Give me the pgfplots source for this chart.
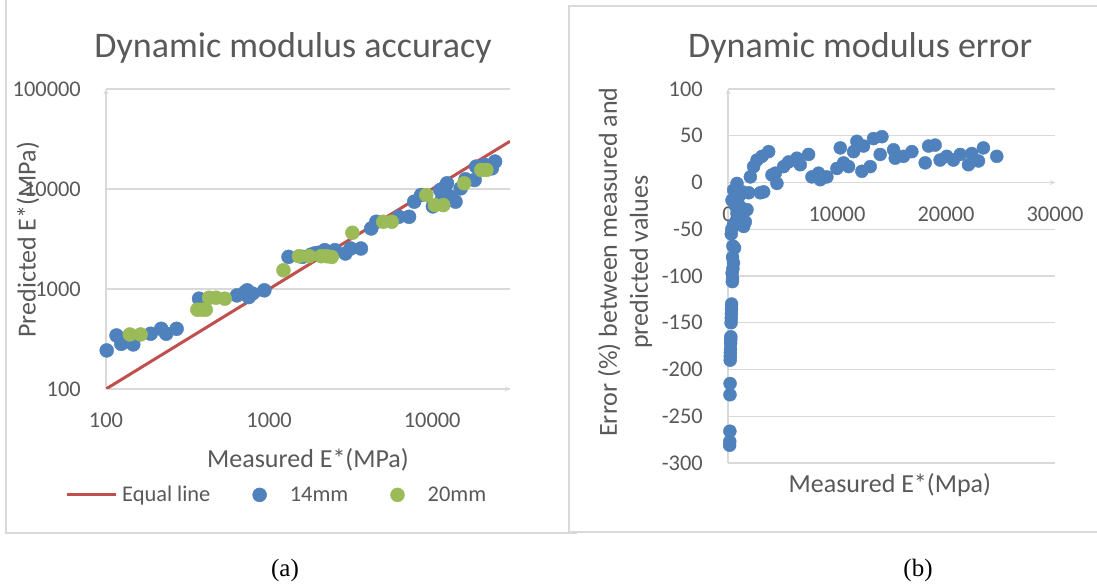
\documentclass[border=0pt]{standalone}
\usepackage{fontspec}
\setmainfont{Carlito}
\newfontfamily\timesfont{Liberation Serif}
\usepackage{pgfplots}
\pgfplotsset{compat=1.18}
\definecolor{txt}{HTML}{595959}
\definecolor{gridc}{HTML}{D9D9D9}
\definecolor{blu}{HTML}{4F81BD}
\definecolor{grn}{HTML}{9BBB59}
\definecolor{redl}{HTML}{C0504D}
\newcommand{\tickfont}{\fontsize{22.4bp}{26bp}\selectfont}
\newcommand{\labfont}{\fontsize{26bp}{31bp}\selectfont}
\newcommand{\titfont}{\fontsize{36bp}{42bp}\selectfont}
\pgfplotsset{
  excel/.style={
    scale only axis,
    major tick length=0pt, minor tick length=0pt,
    axis line style={-, draw=gridc, line width=1.3bp},
    every inner x axis line/.append style={-},
    every inner y axis line/.append style={-},
    every outer x axis line/.append style={-},
    every outer y axis line/.append style={-},
    ymajorgrids,
    major grid style={draw=gridc, line width=1.3bp},
    tick label style={font=\tickfont, text=txt},
    xticklabel style={inner sep=0pt, yshift=-24bp},
    yticklabel style={inner sep=0pt, xshift=-25bp},
    scaled ticks=false,
  },
  dotleg/.style={legend image code/.code={\draw[##1] plot coordinates {(0bp,0bp)}; \path (-7bp,0bp) (25bp,0bp);}},
  lineleg/.style={legend image code/.code={\draw[##1] (0bp,0bp) -- (49bp,0bp);}},
}
\begin{document}
\begin{tikzpicture}
\useasboundingbox (0,0) rectangle (1097bp,584bp);
\fill[white] (0,0) rectangle (1097bp,584bp);
\draw[gridc, line width=1.5bp] (6bp,584bp) -- (6bp,51bp) -- (577bp,51bp);
\draw[gridc, line width=1.5bp] (569bp,51bp) -- (569bp,578bp) -- (1097bp,578bp);
\draw[gridc, line width=1.5bp] (569bp,52bp) -- (1097bp,52bp);

% ---------- (a) accuracy ----------
\begin{axis}[excel,
  at={(106bp,195bp)}, anchor=south west,
  width=404bp, height=300bp,
  xmode=log, ymode=log,
  xmin=100, xmax=30000, ymin=100, ymax=100000,
  xtick={100,1000,10000}, xticklabels={100,1000,10000},
  ytick={100,1000,10000,100000}, yticklabels={100,1000,10000,100000},
  minor xtick={}, minor ytick={},
  axis lines=left,
  title={Dynamic modulus accuracy},
  every axis title/.style={at={(axis description cs:0.463,1.137)}, anchor=center, font=\titfont, text=txt},
  xlabel={Measured E*(MPa)},
  every axis x label/.style={at={(axis description cs:0.5,-0.237)}, anchor=center, font=\labfont, text=txt},
  ylabel={Predicted E*(MPa)},
  every axis y label/.style={at={(axis description cs:-0.193,0.497)}, anchor=center, rotate=90, font=\labfont, text=txt},
  legend columns=3,
  legend style={at={(axis description cs:0.42,-0.353)}, anchor=center, draw=none, fill=none,
    font=\tickfont, text=txt, nodes={inner sep=0pt},
    /tikz/every even column/.append style={column sep=42bp},
    /tikz/every odd column/.append style={column sep=5bp}},
]
\addplot[redl, line width=3bp, lineleg]
  coordinates {(100,100) (30000,30000)};
\addlegendentry{Equal line}
\addplot[only marks, mark=*, mark size=7bp, mark options={draw=blu, fill=blu}, dotleg]
  coordinates {
(101,243) (116,343) (124,283) (147,279) (137,330) (188,357) (218,400) (234,357) (271,400)
(372,800) (635,863) (713,933) (734,970) (790,900) (750,830) (935,970)
(1315,2094) (1600,2094) (1800,2200) (1897,2265) (2000,2300) (2193,2444) (2300,2350) (2535,2444) (2937,2265)
(3160,2540) (3656,2540) (4228,4027) (4540,4700) (6237,5272) (7214,5272) (7756,7470) (8550,8710)
(10100,6700) (11190,9770) (11500,8000) (12000,10500) (12330,11400) (12950,8360) (13900,7470) (14950,10150)
(16000,12500) (18200,12300) (18600,16750) (21000,17400) (23200,16100) (24300,18800)
  };
\addlegendentry{14mm}
\addplot[only marks, mark=*, mark size=7bp, mark options={draw=grn, fill=grn}, dotleg]
  coordinates {
(140,351) (163,351) (363,621) (390,621) (409,621) (429,818) (473,818) (535,800)
(1225,1538) (1525,2128) (1760,2128) (2085,2128) (2250,2128) (2420,2090) (3240,3650)
(5010,4700) (5650,4700) (9200,8710) (10400,6900) (11700,6900) (15700,11400) (20000,15500) (21500,15500)
  };
\addlegendentry{20mm}
\end{axis}

% ---------- (b) error ----------
\begin{axis}[excel,
  at={(728bp,121bp)}, anchor=south west,
  width=327bp, height=374bp,
  xmin=0, xmax=30000, ymin=-300, ymax=100,
  xtick={0,10000,20000,30000}, xticklabels={0,10000,20000,30000},
  ytick={-300,-250,-200,-150,-100,-50,0,50,100},
  yticklabels={-300,-250,-200,-150,-100,-50,0,50,100},
  axis x line=middle, axis y line=left,
  hide obscured x ticks=false, hide obscured y ticks=false,
  clip=false,
  title={Dynamic modulus error},
  every axis title/.style={at={(axis description cs:0.404,1.110)}, anchor=center, font=\titfont, text=txt},
  xlabel={Measured E*(Mpa)},
  every axis x label/.style={at={(axis description cs:0.495,-0.059)}, anchor=center, font=\labfont, text=txt},
  ylabel={Error (\%) between measured and\\predicted values},
  every axis y label/.style={at={(axis description cs:-0.315,0.537)}, anchor=center, rotate=90, align=center, font=\labfont, text=txt},
]
\addplot[only marks, mark=*, mark size=6.5bp, mark options={draw=blu, fill=blu}]
  coordinates {
(150,-281) (160,-277) (170,-266) (180,-227) (190,-215) (200,-190) (210,-186) (220,-182)
(230,-178) (240,-172) (250,-168) (260,-165) (280,-150) (300,-145) (310,-140) (320,-135)
(330,-130) (400,-106) (420,-103) (380,-97) (450,-92) (500,-86) (420,-80) (600,-70)
(450,-68) (300,-55) (350,-50) (500,-45)
(825,-1) (520,-8) (370,-19) (1130,-26) (1436,-47) (825,-33) (1740,-29) (1590,-42)
(1200,-40) (1000,-15) (700,-25) (1300,-10)
(1900,-11) (2050,6) (2350,17) (2660,24) (3120,28) (3730,33) (3270,-10) (2960,-11)
(4030,8) (4490,-1) (4340,10) (5100,17) (5560,22) (6320,26) (6630,19) (7390,30)
(7700,6) (8310,10) (8460,3) (9070,6) (9990,15) (10600,21) (10300,37) (11060,17)
(11520,33) (11820,44) (12280,12) (13050,17) (12430,39) (13350,47) (14120,49) (13960,30)
(15190,35) (15340,26) (16100,28) (16870,33) (18090,21) (18400,39) (19000,40) (19460,24)
(20070,28) (20680,24) (21300,30) (22060,19) (22360,31) (22980,23) (23430,37) (24660,28)
  };
\end{axis}

\node[font=\timesfont\fontsize{25bp}{30bp}\selectfont] at (285bp,14bp) {(a)};
\node[font=\timesfont\fontsize{25bp}{30bp}\selectfont] at (918bp,14bp) {(b)};
\end{tikzpicture}
\end{document}
